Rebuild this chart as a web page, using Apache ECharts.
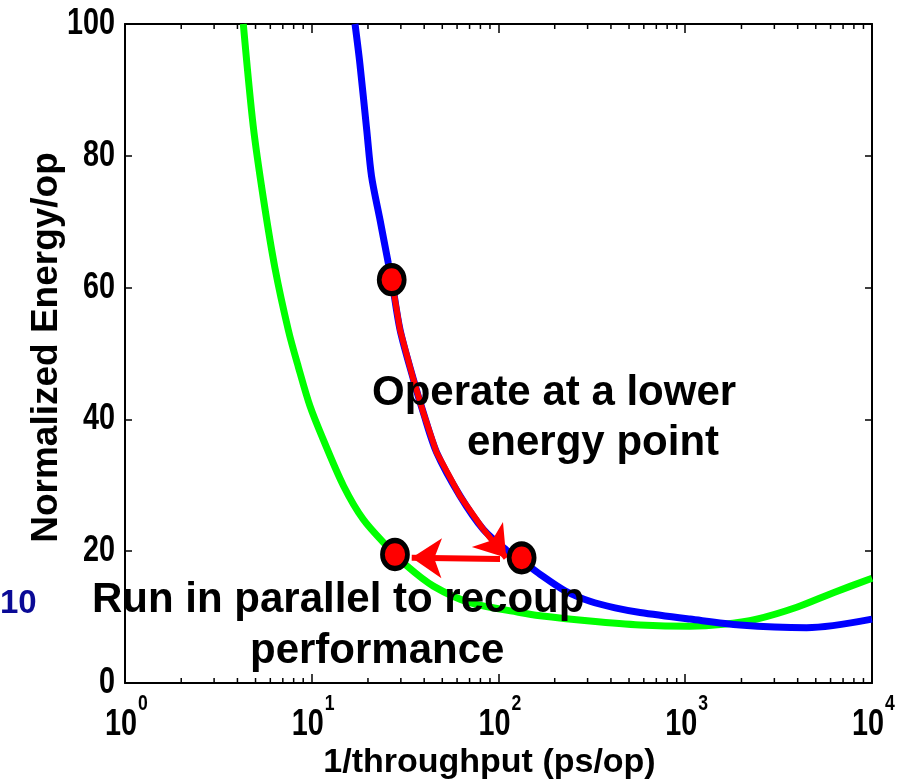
<!DOCTYPE html>
<html>
<head>
<meta charset="utf-8">
<script src="https://cdn.jsdelivr.net/npm/echarts@6/dist/echarts.min.js"></script>
<style>
  html, body { margin: 0; padding: 0; background: #fff; }
  #chart { width: 907px; height: 784px; }
</style>
</head>
<body>
<div id="chart"></div>
<script>
// Energy per operation vs. delay per operation (log x axis)
const parallelCurve = [ // green: parallel implementation
  [4.30, 100], [4.86, 84.5], [5.51, 73.5], [6.35, 63.0], [7.50, 53.5], [8.47, 48.0],
  [9.79, 42.0], [11.5, 37.0], [14.8, 29.9], [18.9, 24.8], [25.2, 20.8], [32.2, 17.8],
  [44.8, 14.7], [70.3, 12.2], [130, 10.7], [167, 10.2], [309, 9.4], [573, 8.8],
  [1060, 8.6], [1600, 8.9], [2414, 9.7], [3955, 11.5], [6210, 13.7], [10000, 15.9]
];
const singleCurve = [ // blue: single implementation
  [17.05, 100], [18.1, 94.0], [19.7, 83.9], [20.9, 76.9], [23.2, 70.3], [25.7, 63.7],
  [26.8, 61.2], [29.7, 53.6], [35.0, 46.1], [39.6, 41.0], [46.6, 35.0], [62.2, 28.4],
  [83.0, 23.3], [110, 20.2], [133, 18.6], [167, 16.5], [227, 14.0], [309, 12.4],
  [421, 11.4], [573, 10.7], [1060, 9.7], [1963, 8.8], [4467, 8.4], [10000, 9.7]
];
const lowerEnergyPath = [ // red: move down the single curve
  [26.8, 61.2], [29.7, 53.6], [35.0, 46.1], [39.6, 41.0], [46.6, 35.0], [62.2, 28.4],
  [83.0, 23.3], [110, 19.0]
];
const parallelShift = [[101.9, 18.8], [34.3, 19.0]]; // red: shift to the parallel curve
const operatingPoints = [[26.8, 61.2], [133, 19.0], [27.9, 19.5]];
const minorTickValues = [
  2, 3, 4, 5, 6, 7, 8, 9,
  20, 30, 40, 50, 60, 70, 80, 90,
  200, 300, 400, 500, 600, 700, 800, 900,
  2000, 3000, 4000, 5000, 6000, 7000, 8000, 9000
];
const xTickValues = [1, 10, 100, 1000, 10000];
const yTickValues = [0, 20, 40, 60, 80, 100];

const BOLD = "'Liberation Sans', Arial, sans-serif";
const NARROW_SCALE = 0.8; // tick numerals are set condensed

const chart = echarts.init(document.getElementById('chart'), null, { renderer: 'canvas' });

const axisLine = { show: true, onZero: false, lineStyle: { color: '#000', width: 2 } };
const majorTick = len => ({ show: true, inside: true, length: len, lineStyle: { color: '#000', width: 1.5 } });

chart.setOption({
  animation: false,
  backgroundColor: '#fff',
  grid: { left: 125, right: 35, top: 24, bottom: 101, containLabel: false, outerBoundsMode: 'none' },
  xAxis: [
    {
      type: 'log', logBase: 10, min: 1, max: 10000, position: 'bottom',
      axisLine: axisLine, axisTick: majorTick(9),
      splitLine: { show: false },
      axisLabel: { show: false },
      name: '1/throughput (ps/op)',
      nameLocation: 'middle',
      nameGap: 63,
      nameTextStyle: { fontFamily: BOLD, fontWeight: 'bold', fontSize: 34, color: '#000', padding: [0, 18, 0, 0] }
    },
    {
      type: 'log', logBase: 10, min: 1, max: 10000, position: 'top',
      axisLine: axisLine, axisTick: majorTick(9),
      axisLabel: { show: false },
      splitLine: { show: false }
    }
  ],
  yAxis: [
    {
      type: 'value', min: 0, max: 100, interval: 20, position: 'left',
      axisLine: axisLine, axisTick: majorTick(7),
      splitLine: { show: false },
      axisLabel: { show: false },
      name: 'Normalized Energy/op',
      nameLocation: 'middle',
      nameGap: 60,
      nameTextStyle: { fontFamily: BOLD, fontWeight: 'bold', fontSize: 37, color: '#000', padding: [0, 0, 0, 12] }
    },
    {
      type: 'value', min: 0, max: 100, interval: 20, position: 'right',
      axisLine: axisLine, axisTick: majorTick(7),
      axisLabel: { show: false },
      splitLine: { show: false }
    }
  ],
  series: [
    {
      // minor log ticks on bottom and top edges
      type: 'custom',
      silent: true, clip: false, z: 3,
      data: minorTickValues.map(v => [v, 0]),
      renderItem: function (params, api) {
        const v = api.value(0);
        const b = api.coord([v, 0]);
        const t = api.coord([v, 100]);
        const st = { stroke: '#000', lineWidth: 1.5 };
        return {
          type: 'group',
          children: [
            { type: 'line', shape: { x1: b[0], y1: b[1], x2: b[0], y2: b[1] - 5 }, style: st },
            { type: 'line', shape: { x1: t[0], y1: t[1], x2: t[0], y2: t[1] + 5 }, style: st }
          ]
        };
      }
    },
    {
      // x tick labels: 10 with superscript exponent
      type: 'custom',
      silent: true, clip: false, z: 10,
      data: xTickValues.map(v => [v, 0]),
      renderItem: function (params, api) {
        const v = api.value(0);
        const p = api.coord([v, 0]);
        const e = String(Math.round(Math.log10(v)));
        return {
          type: 'group',
          children: [
            { type: 'text', x: p[0] + 12, y: p[1] + 42, scaleX: NARROW_SCALE,
              style: { text: '10', fill: '#000', font: 'bold 36px ' + BOLD, align: 'right', verticalAlign: 'middle' } },
            { type: 'text', x: p[0] + 13, y: p[1] + 21, scaleX: NARROW_SCALE,
              style: { text: e, fill: '#000', font: 'bold 22px ' + BOLD, align: 'left', verticalAlign: 'middle' } }
          ]
        };
      }
    },
    {
      // y tick labels
      type: 'custom',
      silent: true, clip: false, z: 10,
      data: yTickValues.map(v => [1, v]),
      renderItem: function (params, api) {
        const v = api.value(1);
        const p = api.coord([1, v]);
        return {
          type: 'text', x: p[0] - 10, y: p[1], scaleX: NARROW_SCALE,
          style: { text: String(v), fill: '#000', font: 'bold 36px ' + BOLD, align: 'right', verticalAlign: 'middle' }
        };
      }
    },
    {
      name: 'parallel',
      type: 'line',
      data: parallelCurve,
      showSymbol: false,
      smooth: 0.3,
      lineStyle: { color: '#00ff00', width: 7 },
      z: 4
    },
    {
      name: 'single',
      type: 'line',
      data: singleCurve,
      showSymbol: false,
      smooth: 0.3,
      lineStyle: { color: '#0000ff', width: 7 },
      z: 5
    },
    {
      // red path along the single curve
      type: 'lines',
      coordinateSystem: 'cartesian2d',
      polyline: true,
      silent: true, z: 6,
      lineStyle: { color: '#ff0000', width: 6, opacity: 1, curveness: 0 },
      data: [{ coords: lowerEnergyPath.slice(0, -1) }]
    },
    {
      // arrow heads: end of the red path, and the shift to the parallel curve
      type: 'lines',
      coordinateSystem: 'cartesian2d',
      silent: true, z: 6,
      symbol: ['none', 'arrow'],
      symbolSize: 30,
      lineStyle: { color: '#ff0000', width: 6, opacity: 1, curveness: 0 },
      data: [
        { coords: lowerEnergyPath.slice(-2) },
        { coords: parallelShift }
      ]
    },
    {
      type: 'scatter',
      data: operatingPoints,
      symbol: 'circle',
      symbolSize: [25, 28],
      itemStyle: { color: '#ff0000', borderColor: '#000', borderWidth: 5, opacity: 1 },
      z: 8
    }
  ],
  graphic: [
    { type: 'text', left: 0, top: 587, z: 100,
      style: { text: '10', fill: '#0a0a96', font: 'bold 33px ' + BOLD } },
    { type: 'text', x: 372, y: 393, z: 100,
      style: { text: 'Operate at a lower', fill: '#000', font: 'bold 42px ' + BOLD, verticalAlign: 'middle' } },
    { type: 'text', x: 467, y: 443, z: 100,
      style: { text: 'energy point', fill: '#000', font: 'bold 42px ' + BOLD, verticalAlign: 'middle' } },
    { type: 'text', x: 92, y: 600, z: 100,
      style: { text: 'Run in parallel to recoup', fill: '#000', font: 'bold 42px ' + BOLD, verticalAlign: 'middle' } },
    { type: 'text', x: 250, y: 651, z: 100,
      style: { text: 'performance', fill: '#000', font: 'bold 42px ' + BOLD, verticalAlign: 'middle' } }
  ]
});
</script>
</body>
</html>
